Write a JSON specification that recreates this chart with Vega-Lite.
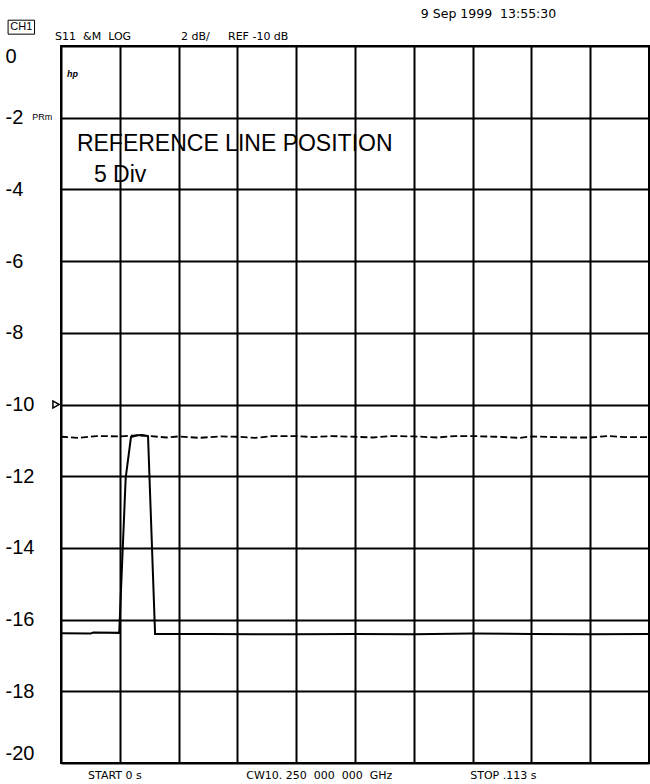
{
  "$schema": "https://vega.github.io/schema/vega-lite/v6.json",
  "autosize": {"type": "none"},
  "width": 588,
  "height": 717,
  "padding": {"left": 61, "top": 46, "right": 1, "bottom": 21},
  "background": "white",
  "config": {
    "view": {"stroke": "black", "strokeWidth": 2},
    "font": "Liberation Sans"
  },
  "datasets": {
    "traces": [
      {"trace": "memory", "div": 0.0, "dB": -10.90},
      {"trace": "memory", "div": 0.3, "dB": -10.93},
      {"trace": "memory", "div": 0.6, "dB": -10.88},
      {"trace": "memory", "div": 1.0, "dB": -10.89},
      {"trace": "memory", "div": 1.3, "dB": -10.86},
      {"trace": "memory", "div": 1.5, "dB": -10.88},
      {"trace": "memory", "div": 1.8, "dB": -10.92},
      {"trace": "memory", "div": 2.0, "dB": -10.89},
      {"trace": "memory", "div": 2.35, "dB": -10.93},
      {"trace": "memory", "div": 2.7, "dB": -10.89},
      {"trace": "memory", "div": 3.0, "dB": -10.90},
      {"trace": "memory", "div": 3.3, "dB": -10.93},
      {"trace": "memory", "div": 3.6, "dB": -10.88},
      {"trace": "memory", "div": 4.0, "dB": -10.88},
      {"trace": "memory", "div": 4.3, "dB": -10.91},
      {"trace": "memory", "div": 4.6, "dB": -10.88},
      {"trace": "memory", "div": 5.0, "dB": -10.90},
      {"trace": "memory", "div": 5.3, "dB": -10.92},
      {"trace": "memory", "div": 5.6, "dB": -10.88},
      {"trace": "memory", "div": 6.0, "dB": -10.89},
      {"trace": "memory", "div": 6.4, "dB": -10.92},
      {"trace": "memory", "div": 6.7, "dB": -10.88},
      {"trace": "memory", "div": 7.0, "dB": -10.88},
      {"trace": "memory", "div": 7.4, "dB": -10.90},
      {"trace": "memory", "div": 7.8, "dB": -10.93},
      {"trace": "memory", "div": 8.0, "dB": -10.89},
      {"trace": "memory", "div": 8.4, "dB": -10.91},
      {"trace": "memory", "div": 8.7, "dB": -10.92},
      {"trace": "memory", "div": 9.0, "dB": -10.92},
      {"trace": "memory", "div": 9.3, "dB": -10.88},
      {"trace": "memory", "div": 9.6, "dB": -10.91},
      {"trace": "memory", "div": 10.0, "dB": -10.91},
      {"trace": "data", "div": 0.0, "dB": -16.38},
      {"trace": "data", "div": 0.5, "dB": -16.39},
      {"trace": "data", "div": 0.55, "dB": -16.36},
      {"trace": "data", "div": 0.99, "dB": -16.37},
      {"trace": "data", "div": 1.10, "dB": -12.05},
      {"trace": "data", "div": 1.19, "dB": -10.91},
      {"trace": "data", "div": 1.30, "dB": -10.86},
      {"trace": "data", "div": 1.38, "dB": -10.85},
      {"trace": "data", "div": 1.48, "dB": -10.88},
      {"trace": "data", "div": 1.60, "dB": -16.40},
      {"trace": "data", "div": 2.5, "dB": -16.40},
      {"trace": "data", "div": 4.0, "dB": -16.41},
      {"trace": "data", "div": 5.0, "dB": -16.40},
      {"trace": "data", "div": 6.0, "dB": -16.41},
      {"trace": "data", "div": 7.0, "dB": -16.39},
      {"trace": "data", "div": 8.0, "dB": -16.40},
      {"trace": "data", "div": 9.0, "dB": -16.41},
      {"trace": "data", "div": 10.0, "dB": -16.40}
    ],
    "small": [
      {"label": "S11  &M  LOG", "div": -0.10, "dB": 0.25},
      {"label": "2 dB/", "div": 2.04, "dB": 0.25},
      {"label": "REF -10 dB", "div": 2.84, "dB": 0.25},
      {"label": "START 0 s", "div": 0.46, "dB": -20.37},
      {"label": "CW10. 250  000  000  GHz", "div": 3.15, "dB": -20.37},
      {"label": "STOP .113 s", "div": 6.96, "dB": -20.37}
    ],
    "big": [
      {"label": "REFERENCE LINE POSITION", "div": 0.27, "dB": -2.72},
      {"label": "5 Div", "div": 0.56, "dB": -3.60}
    ]
  },
  "layer": [
    {
      "data": {"name": "traces"},
      "transform": [{"filter": "datum.trace === 'memory'"}],
      "mark": {"type": "line", "color": "black", "strokeWidth": 1.8, "strokeDash": [7, 3]},
      "encoding": {
        "x": {"field": "div", "type": "quantitative", "scale": {"domain": [0, 10], "nice": false},
          "axis": {"values": [0,1,2,3,4,5,6,7,8,9,10], "labels": false, "ticks": false, "domain": false, "title": null,
            "grid": true, "gridColor": "black", "gridWidth": 2, "gridOpacity": 1}},
        "y": {"field": "dB", "type": "quantitative", "scale": {"domain": [-20, 0], "nice": false, "zero": false},
          "axis": {"values": [-20,-18,-16,-14,-12,-10,-8,-6,-4,-2,0], "ticks": false, "tickSize": 0, "domain": false, "title": null,
            "grid": true, "gridColor": "black", "gridWidth": 2, "gridOpacity": 1,
            "labelExpr": "'' + datum.value",
            "labelAlign": "left", "labelPadding": 56, "labelFlush": true,
            "labelFont": "Liberation Sans", "labelFontSize": 20, "labelColor": "black"}}
      }
    },
    {
      "data": {"name": "traces"},
      "transform": [{"filter": "datum.trace === 'data'"}],
      "mark": {"type": "line", "color": "black", "strokeWidth": 2},
      "encoding": {
        "x": {"field": "div", "type": "quantitative"},
        "y": {"field": "dB", "type": "quantitative"}
      }
    },
    {
      "data": {"values": [{"div": -0.085, "dB": -10}]},
      "mark": {"type": "point", "shape": "triangle-right", "filled": false, "stroke": "black", "strokeWidth": 1.5, "size": 50, "opacity": 1},
      "encoding": {
        "x": {"field": "div", "type": "quantitative"},
        "y": {"field": "dB", "type": "quantitative"}
      }
    },
    {
      "data": {"name": "small"},
      "transform": [{"calculate": "replace(datum.label, / /g, '\u00a0')", "as": "shown"}],
      "mark": {"type": "text", "align": "left", "baseline": "middle", "font": "DejaVu Sans", "fontSize": 11, "color": "black"},
      "encoding": {
        "x": {"field": "div", "type": "quantitative"},
        "y": {"field": "dB", "type": "quantitative"},
        "text": {"field": "shown"}
      }
    },
    {
      "data": {"values": [{"label": "9 Sep 1999\u00a0\u00a013:55:30", "div": 6.12, "dB": 0.89}]},
      "mark": {"type": "text", "align": "left", "baseline": "middle", "font": "DejaVu Sans", "fontSize": 12.5, "color": "black"},
      "encoding": {
        "x": {"field": "div", "type": "quantitative"},
        "y": {"field": "dB", "type": "quantitative"},
        "text": {"field": "label"}
      }
    },
    {
      "data": {"values": [{"x1": -0.90, "x2": -0.45, "y1": 0.33, "y2": 0.72}]},
      "mark": {"type": "rect", "fill": "white", "stroke": "black", "strokeWidth": 1},
      "encoding": {
        "x": {"field": "x1", "type": "quantitative"},
        "x2": {"field": "x2"},
        "y": {"field": "y1", "type": "quantitative"},
        "y2": {"field": "y2"}
      }
    },
    {
      "data": {"values": [{"label": "CH1", "div": -0.675, "dB": 0.525}]},
      "mark": {"type": "text", "align": "center", "baseline": "middle", "font": "Liberation Sans", "fontSize": 11, "color": "black"},
      "encoding": {
        "x": {"field": "div", "type": "quantitative"},
        "y": {"field": "dB", "type": "quantitative"},
        "text": {"field": "label"}
      }
    },
    {
      "data": {"values": [{"label": "PRm", "div": -0.49, "dB": -1.97}]},
      "mark": {"type": "text", "align": "left", "baseline": "middle", "font": "Liberation Sans", "fontSize": 9, "color": "black"},
      "encoding": {
        "x": {"field": "div", "type": "quantitative"},
        "y": {"field": "dB", "type": "quantitative"},
        "text": {"field": "label"}
      }
    },
    {
      "data": {"values": [{"label": "hp", "div": 0.10, "dB": -0.78}]},
      "mark": {"type": "text", "align": "left", "baseline": "middle", "font": "Liberation Sans", "fontSize": 9, "fontStyle": "italic", "fontWeight": "bold", "color": "black"},
      "encoding": {
        "x": {"field": "div", "type": "quantitative"},
        "y": {"field": "dB", "type": "quantitative"},
        "text": {"field": "label"}
      }
    },
    {
      "data": {"name": "big"},
      "mark": {"type": "text", "align": "left", "baseline": "middle", "font": "Liberation Sans", "fontSize": 23, "color": "black"},
      "encoding": {
        "x": {"field": "div", "type": "quantitative"},
        "y": {"field": "dB", "type": "quantitative"},
        "text": {"field": "label"}
      }
    }
  ]
}
